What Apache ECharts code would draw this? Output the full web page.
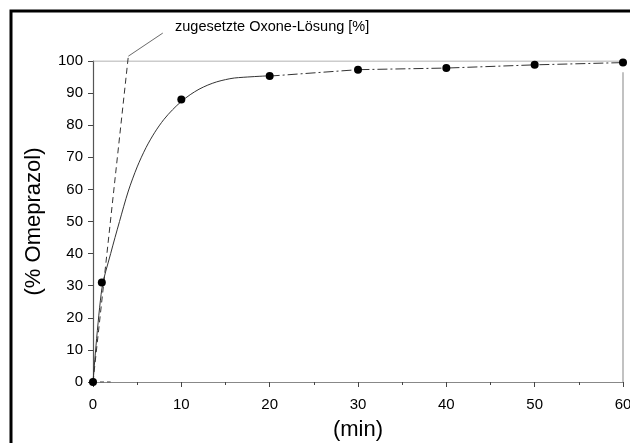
<!DOCTYPE html>
<html><head><meta charset="utf-8">
<script src="https://cdn.jsdelivr.net/npm/echarts@6/dist/echarts.min.js"></script>
<style>html,body{margin:0;padding:0;background:#fff}#c{width:630px;height:443px}</style>
</head><body><div id="c"></div>
<script>
// measured points (time in min, % Omeprazol)
var measX = [0, 1, 10, 20, 30, 40, 50, 60];
var measY = [0, 31, 88, 95.3, 97.3, 97.8, 98.8, 99.5];
// fitted curve
var fitX = [0, 1, 2, 3, 4, 5, 6, 7, 8, 9, 10, 11, 12, 13, 14, 15, 16, 18, 20];
var fitY = [0, 29, 40, 50, 59.5, 67, 73, 77.8, 81.7, 84.8, 87.4, 89.5, 91.2, 92.5, 93.5, 94.2, 94.7, 95.1, 95.4];
// added Oxone solution line and leader
var oxX = [0, 4];
var oxY = [0, 101.5];
var leadX = [4, 7.9];
var leadY = [101.5, 108.7];
var labelText = 'zugesetzte Oxone-Lösung [%]';
var xTicks = [0, 10, 20, 30, 40, 50, 60];
var yTicks = [0, 10, 20, 30, 40, 50, 60, 70, 80, 90, 100];

function zip(a, b) { return a.map(function (v, i) { return [v, b[i]]; }); }
var measData = zip(measX, measY);
var tailData = measData.filter(function (d) { return d[0] >= 20; });

var chart = echarts.init(document.getElementById('c'));
chart.setOption({
  animation: false,
  backgroundColor: '#fff',
  grid: { left: 93, right: 7, top: 61, bottom: 61, containLabel: false, outerBoundsMode: 'none' },
  xAxis: {
    type: 'value', min: xTicks[0], max: xTicks[xTicks.length - 1], interval: 10,
    axisLine: { lineStyle: { color: '#888', width: 1.2 } },
    axisTick: { show: true, length: 5, lineStyle: { color: '#444' } },
    minorTick: { show: true, splitNumber: 2, length: 3, lineStyle: { color: '#444' } },
    splitLine: { show: false },
    axisLabel: { color: '#000', fontSize: 15, fontFamily: 'Liberation Sans, Arial', margin: 15 },
    name: '(min)', nameLocation: 'middle', nameGap: 37,
    nameTextStyle: { color: '#000', fontSize: 22, fontFamily: 'Liberation Sans, Arial' }
  },
  yAxis: {
    type: 'value', min: yTicks[0], max: yTicks[yTicks.length - 1], interval: 10,
    axisLine: { show: true, lineStyle: { color: '#555', width: 1.2 } },
    axisTick: { show: true, length: 5, lineStyle: { color: '#444' } },
    splitLine: { show: false },
    axisLabel: { color: '#000', fontSize: 15, fontFamily: 'Liberation Sans, Arial', margin: 10 },
    name: '(% Omeprazol)', nameLocation: 'middle', nameGap: 48, nameRotate: 90,
    nameTextStyle: { color: '#000', fontSize: 22, fontFamily: 'Liberation Sans, Arial' }
  },
  graphic: [
    { type: 'rect', shape: { x: 11, y: 11, width: 640, height: 450 },
      style: { fill: 'none', stroke: '#000', lineWidth: 3 }, z: 100 },
    { type: 'text', left: 175, top: 19,
      style: { text: labelText, font: '14.5px "Liberation Sans", Arial', fill: '#000' } }
  ],
  series: [
    { type: 'line', data: [[0, 100], [60, 100]], symbol: 'none', silent: true,
      lineStyle: { color: '#999', width: 1.2 } },
    { type: 'line', data: [[60, 96.5], [60, 0]], symbol: 'none', silent: true,
      lineStyle: { color: '#999', width: 1.2 } },
    { type: 'line', data: zip(oxX, oxY), symbol: 'none', clip: false,
      lineStyle: { color: '#333', width: 1, type: [6, 4] } },
    { type: 'line', data: zip(leadX, leadY), symbol: 'none', clip: false,
      lineStyle: { color: '#444', width: 0.8 } },
    { type: 'line', data: zip(fitX, fitY), symbol: 'none', smooth: 0.3,
      lineStyle: { color: '#333', width: 1 } },
    { type: 'line', data: tailData, symbol: 'none',
      lineStyle: { color: '#333', width: 1, type: [10, 3, 2, 3] } },
    { type: 'line', data: [[0, 0], [2, 0]], symbol: 'none',
      lineStyle: { color: '#333', width: 1, type: [4, 3] } },
    { type: 'scatter', data: measData, symbol: 'circle', symbolSize: 8,
      itemStyle: { color: '#000', opacity: 1 }, z: 10 }
  ]
});
</script></body></html>
